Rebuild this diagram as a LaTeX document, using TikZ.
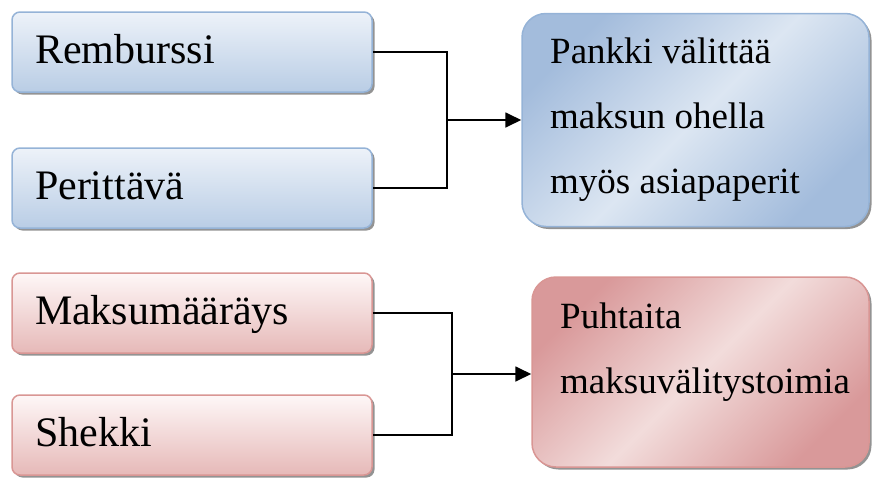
\documentclass[tikz,border=0pt]{standalone}
\usepackage{fontspec}
\setmainfont{Liberation Serif}
\usetikzlibrary{arrows.meta,shadows}
\definecolor{btop}{HTML}{EDF2F9}
\definecolor{bbot}{HTML}{B9CDE5}
\definecolor{bedge}{HTML}{95B3D7}
\definecolor{rtop}{HTML}{FEF7F7}
\definecolor{rbot}{HTML}{E6B9B8}
\definecolor{redge}{HTML}{D99694}
\definecolor{bdark}{HTML}{A3BCDC}
\definecolor{blight}{HTML}{DCE6F2}
\definecolor{rdark}{HTML}{D9999A}
\definecolor{rlight}{HTML}{F2DCDB}
\tikzset{
  shad/.style={drop shadow={shadow xshift=2.5pt,shadow yshift=-2.5pt,fill=black!50,opacity=0.85}},
  lbox/.style={shad,line width=1.5pt,rounded corners=8pt,minimum width=360pt,minimum height=80pt,
    inner xsep=23pt,text width=314pt,align=left,font=\fontsize{42}{50}\selectfont,
    text height=29.4pt,text depth=7.1pt},
  bluel/.style={lbox,draw=bedge,top color=btop,bottom color=bbot},
  redl/.style={lbox,draw=redge,top color=rtop,bottom color=rbot},
  rbox/.style={shad,line width=1.5pt,rounded corners=24pt,inner sep=0pt},
  rtext/.style={anchor=base west,inner sep=0pt,font=\fontsize{37}{65}\selectfont},
  conn/.style={line width=1.8pt,black},
  arr/.style={conn,-{Triangle[length=16pt,width=15pt]}}
}
\begin{document}
\begin{tikzpicture}[x=1pt,y=-1pt]
\useasboundingbox (0,0) rectangle (873,477);
% left boxes
\node[bluel] (rem) at (192,52) {Remburssi};
\node[bluel] (per) at (192,188) {Perittävä};
\node[redl] (mak) at (192,313) {Maksumääräys};
\node[redl] (she) at (192,435) {Shekki};
% right boxes
\node[rbox,draw=bedge,minimum width=347pt,minimum height=213pt,
  left color=bdark,right color=bdark,middle color=blight,shading angle=45] (pan) at (695.5,120) {};
\node[rbox,draw=redge,minimum width=337pt,minimum height=190pt,
  left color=rdark,right color=rdark,middle color=rlight,shading angle=45] (puh) at (700.5,372) {};
% right texts
\node[rtext] (p1) at (550,63) {Pankki välittää};
\node[rtext] (p2) at (550,128) {maksun ohella};
\node[rtext] (p3) at (550,193) {myös asiapaperit};
\node[rtext] (q1) at (560,328) {Puhtaita};
\node[rtext] (q2) at (560,393) {maksuvälitystoimia};
% connectors
\coordinate (j1) at (447,120);
\coordinate (j2) at (452,374);
\draw[conn] (rem.east) -| (j1 |- per.east) -- (per.east);
\draw[arr] (j1) -- (j1 -| pan.west);
\draw[conn] (mak.east) -| (j2 |- she.east) -- (she.east);
\draw[arr] (j2) -- (j2 -| puh.west);
\end{tikzpicture}
\end{document}
